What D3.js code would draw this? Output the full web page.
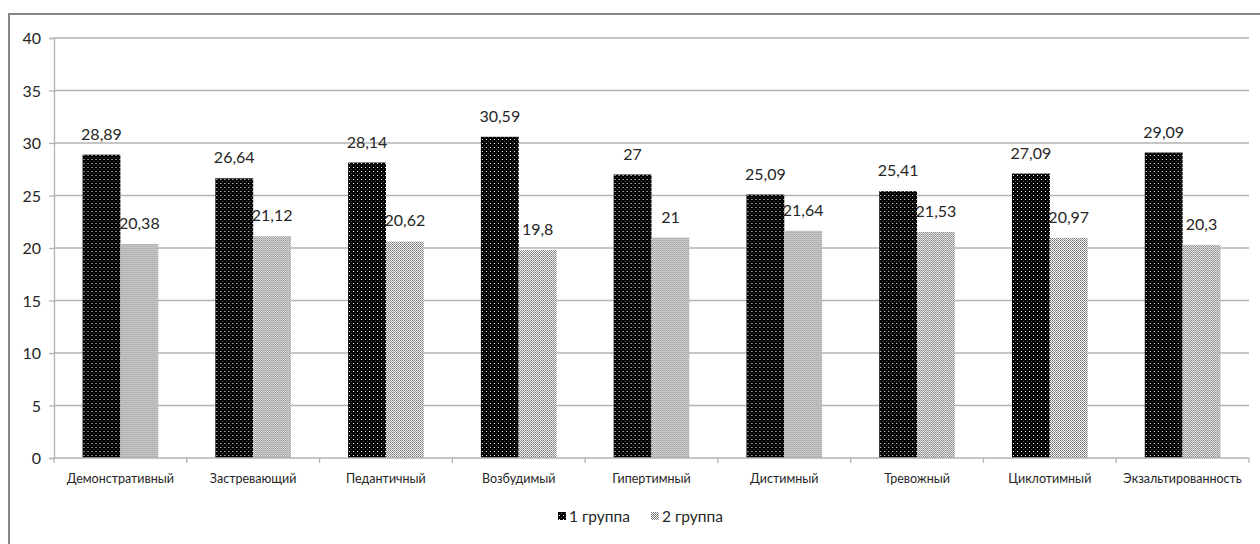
<!DOCTYPE html>
<html>
<head>
<meta charset="utf-8">
<script src="https://cdnjs.cloudflare.com/ajax/libs/d3/7.8.5/d3.min.js"></script>
<style>
  body { margin: 0; background: #fff; }
  svg text { font-family: Lato, "Open Sans", sans-serif; fill: #262626; }
</style>
</head>
<body>
<div id="chart"></div>
<script>
// ---- data
var categories = ["Демонстративный", "Застревающий", "Педантичный", "Возбудимый",
  "Гипертимный", "Дистимный", "Тревожный", "Циклотимный", "Экзальтированность"];
var group1 = [28.89, 26.64, 28.14, 30.59, 27, 25.09, 25.41, 27.09, 29.09];
var group2 = [20.38, 21.12, 20.62, 19.8, 21, 21.64, 21.53, 20.97, 20.3];
var seriesNames = ["1 группа", "2 группа"];
var yTicks = [0, 5, 10, 15, 20, 25, 30, 35, 40];

var width = 1260, height = 544;
var margin = {left: 54, right: 11, top: 38, bottom: 86};

var svg = d3.select("#chart").append("svg")
  .attr("width", width)
  .attr("height", height);

// patterns for the two series (like Excel pattern fills)
var defs = svg.append("defs");
var p1 = defs.append("pattern")
  .attr("id", "pat1").attr("patternUnits", "userSpaceOnUse")
  .attr("width", 4).attr("height", 4);
p1.append("rect").attr("width", 4).attr("height", 4).attr("fill", "#000");
p1.append("rect").attr("x", 1).attr("y", 1).attr("width", 1).attr("height", 1).attr("fill", "#fff");
p1.append("rect").attr("x", 3).attr("y", 3).attr("width", 1).attr("height", 1).attr("fill", "#555");

var p2 = defs.append("pattern")
  .attr("id", "pat2").attr("patternUnits", "userSpaceOnUse")
  .attr("width", 2).attr("height", 2);
p2.append("rect").attr("width", 2).attr("height", 2).attr("fill", "#fff");
p2.append("rect").attr("x", 0).attr("y", 0).attr("width", 1).attr("height", 1).attr("fill", "#6a6a6a");
p2.append("rect").attr("x", 1).attr("y", 1).attr("width", 1).attr("height", 1).attr("fill", "#8a8a8a");

// outer frame of the chart area
svg.append("path")
  .attr("d", "M9," + (height + 2) + "V14H" + (width + 2))
  .attr("fill", "none")
  .attr("stroke", "#868686")
  .attr("stroke-width", 2);

var plotW = width - margin.left - margin.right;
var plotH = height - margin.top - margin.bottom;

var g = svg.append("g")
  .attr("transform", `translate(${margin.left},${margin.top})`);

var x0 = d3.scaleBand()
  .domain(categories)
  .range([0, plotW])
  .paddingInner(0.43)
  .paddingOuter(0.215);

var x1 = d3.scaleBand()
  .domain([0, 1])
  .range([0, x0.bandwidth()]);

var y = d3.scaleLinear()
  .domain([0, 40])
  .range([plotH, 0]);

// gridlines
g.selectAll(".grid")
  .data(yTicks.filter(d => d > 0))
  .enter().append("line")
  .attr("x1", 0).attr("x2", plotW)
  .attr("y1", d => y(d)).attr("y2", d => y(d))
  .attr("stroke", "#b3b3b3")
  .attr("stroke-width", 1.3);

// y axis
var yAxis = g.append("g")
  .call(d3.axisLeft(y).tickValues(yTicks).tickSize(5).tickPadding(8).tickFormat(d3.format("d")));
yAxis.select(".domain").attr("stroke", "#b3b3b3").attr("stroke-width", 1.3);
yAxis.selectAll(".tick line").attr("stroke", "#b3b3b3").attr("stroke-width", 1.3);
yAxis.selectAll("text").style("font-size", "16px").attr("dy", "0.35em");

// bars
var rows = categories.map((c, i) => ({cat: c, vals: [group1[i], group2[i]]}));

var cat = g.selectAll(".cat")
  .data(rows)
  .enter().append("g")
  .attr("transform", d => `translate(${x0(d.cat)},0)`);

cat.selectAll("rect")
  .data(d => d.vals)
  .enter().append("rect")
  .attr("x", (d, i) => x1(i))
  .attr("width", x1.bandwidth())
  .attr("y", d => y(d))
  .attr("height", d => plotH - y(d))
  .attr("fill", (d, i) => i === 0 ? "url(#pat1)" : "url(#pat2)");

cat.selectAll(".lbl")
  .data(d => d.vals)
  .enter().append("text")
  .attr("x", (d, i) => x1(i) + x1.bandwidth() / 2)
  .attr("y", d => y(d) - 15)
  .attr("text-anchor", "middle")
  .style("font-size", "16px")
  .text(d => String(d).replace(".", ","));

// x axis with ticks between categories
var xAxisG = g.append("g").attr("transform", `translate(0,${plotH})`);
xAxisG.append("line")
  .attr("x1", 0).attr("x2", plotW)
  .attr("stroke", "#b3b3b3").attr("stroke-width", 1.3);
var step = plotW / categories.length;
xAxisG.selectAll(".xt")
  .data(d3.range(categories.length + 1))
  .enter().append("line")
  .attr("x1", d => d * step).attr("x2", d => d * step)
  .attr("y1", 0).attr("y2", 5)
  .attr("stroke", "#b3b3b3").attr("stroke-width", 1.3);
xAxisG.selectAll(".xl")
  .data(categories)
  .enter().append("text")
  .attr("x", d => x0(d) + x0.bandwidth() / 2)
  .attr("y", 25)
  .attr("text-anchor", "middle")
  .style("font-size", "12.5px")
  .text(d => d);

// legend
var legend = svg.append("g").attr("transform", "translate(558,522)");
var legX = [0, 93];
seriesNames.forEach(function(name, i) {
  var lg = legend.append("g").attr("transform", `translate(${legX[i]},0)`);
  lg.append("rect")
    .attr("x", 0).attr("y", -10)
    .attr("width", 8).attr("height", 8)
    .attr("fill", i === 0 ? "url(#pat1)" : "url(#pat2)");
  lg.append("text")
    .attr("x", 11).attr("y", 0)
    .style("font-size", "15.5px")
    .text(name);
});
</script>
</body>
</html>
